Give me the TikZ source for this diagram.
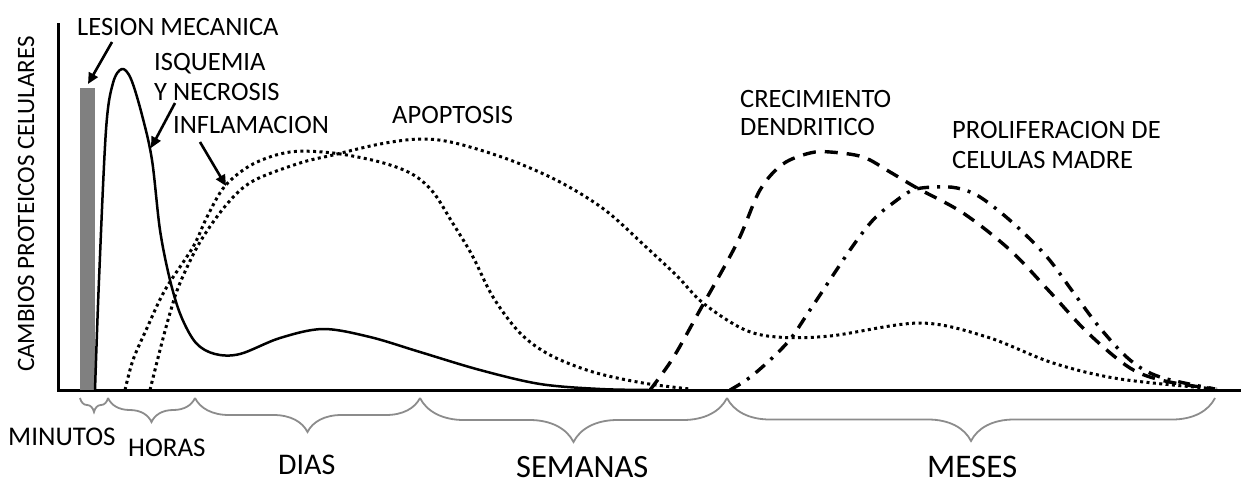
\documentclass[tikz,border=0pt]{standalone}
\usepackage{fontspec}
\setmainfont{Carlito}
\usetikzlibrary{arrows.meta,decorations.pathreplacing}
\begin{document}
\begin{tikzpicture}[x=1pt,y=-1pt,
  lbl/.style={inner sep=0pt, anchor=base west, font=\fontsize{26.5}{30}\selectfont},
  axisline/.style={line width=3pt, black},
  solidcurve/.style={line width=2.5pt, line join=round},
  dotcurve/.style={line width=3pt, dash pattern=on 3pt off 3.4pt},
  dashcurve/.style={line width=3.4pt, dash pattern=on 13pt off 9pt},
  dashdotcurve/.style={line width=3.4pt, dash pattern=on 12pt off 8pt on 3pt off 8pt},
  pointer/.style={line width=2.6pt, -{Triangle[length=11pt,width=10pt]}},
  period/.style={draw=black!45, line width=1.8pt, decorate, decoration={brace, mirror, amplitude=#1}},
]
\useasboundingbox (0,0) rectangle (1241,485);

% axes
\coordinate (top) at (58,23);
\coordinate (origin) at (58,390);
\coordinate (xend) at (1241,390);
\draw[axisline] (top) -- (origin) -- (xend);

% lesion bar
\fill[black!50] (80,88) rectangle (95,390);

% ischemia / necrosis (solid)
\draw[solidcurve] plot[smooth, tension=0.55] coordinates {
  (95,390) (99,280) (106,130) (113,83) (122,69) (131,79) (142,115) (152,160)
  (160,230) (170,280) (181,316) (196,343) (215,354) (240,354) (280,338)
  (323,329) (370,337) (420,352) (480,370) (540,384) (600,389) (650,390)};

% inflamacion (dotted, short)
\draw[dotcurve] plot[smooth, tension=0.55] coordinates {
  (125,390) (133,360) (147,328) (165,290) (193,247) (207,217) (225,186)
  (253,164) (290,152) (333,153) (380,162) (412,174) (433,192) (452,222)
  (472,255) (493,297) (520,333) (550,355) (593,372) (643,383) (690,389)};

% apoptosis (dotted, long)
\draw[dotcurve] plot[smooth, tension=0.55] coordinates {
  (150,390) (160,350) (170,313) (180,283) (200,242) (227,204) (253,181)
  (300,163) (333,155) (380,144) (420,139) (455,143) (510,160) (560,182)
  (605,210) (645,246) (677,276) (703,303) (743,329) (777,337) (830,336)
  (920,323) (987,337) (1053,363) (1120,379) (1217,389)};

% crecimiento dendritico (dashed)
\draw[dashcurve] plot[smooth, tension=0.55] coordinates {
  (650,390) (673,358) (700,310) (737,243) (760,190) (783,164) (810,153)
  (830,152) (863,157) (890,172) (917,188) (963,213) (1010,250) (1050,292)
  (1088,333) (1130,368) (1165,381) (1215,389)};

% proliferacion de celulas madre (dash dot)
\draw[dashdotcurve] plot[smooth, tension=0.55] coordinates {
  (730,390) (753,375) (787,343) (810,310) (850,250) (873,220) (893,203)
  (913,190) (935,187) (957,188) (980,197) (1013,223) (1047,257) (1073,292)
  (1100,328) (1130,360) (1160,377) (1215,389)};

% labels
\node[lbl] (lesion) at (77,35) {LESION MECANICA};
\node[lbl] (isq1) at (154,70) {ISQUEMIA};
\node[lbl] (isq2) at (154,100) {Y NECROSIS};
\node[lbl] (infl) at (173,133) {INFLAMACION};
\node[lbl] (apop) at (392,123) {APOPTOSIS};
\node[lbl] (crec1) at (740,107) {CRECIMIENTO};
\node[lbl] (crec2) at (740,135) {DENDRITICO};
\node[lbl] (prol1) at (952,138) {PROLIFERACION DE};
\node[lbl] (prol2) at (952,168) {CELULAS MADRE};
\node[inner sep=0pt, anchor=base, rotate=90, font=\fontsize{25}{30}\selectfont] (ylab) at (34,204) {CAMBIOS PROTEICOS CELULARES};

% pointers
\coordinate (lesA) at (112,42);  \coordinate (lesB) at (88,84);
\coordinate (isqA) at (175,103); \coordinate (isqB) at (151,148);
\coordinate (infA) at (200,142); \coordinate (infB) at (226,186);
\draw[pointer] (lesA) -- (lesB);
\draw[pointer] (isqA) -- (isqB);
\draw[pointer] (infA) -- (infB);

% time braces
\coordinate (b0) at (80,398);
\coordinate (b1) at (108,398);
\coordinate (b2) at (195,398);
\coordinate (b3) at (420,398);
\coordinate (b4) at (727,398);
\coordinate (b5) at (1215,398);
\draw[period=14pt] (b0) -- (b1);
\draw[period=24pt] (b1) -- (b2);
\draw[period=34pt] (b2) -- (b3);
\draw[period=44pt] (b3) -- (b4);
\draw[period=43pt] (b4) -- (b5);

\node[lbl, font=\fontsize{27}{30}\selectfont] (min) at (8,445) {MINUTOS};
\node[lbl, font=\fontsize{27}{30}\selectfont] (hor) at (128,456) {HORAS};
\node[lbl, font=\fontsize{30}{34}\selectfont] (dia) at (278,474) {DIAS};
\node[lbl, font=\fontsize{32.5}{36}\selectfont] (sem) at (516,477) {SEMANAS};
\node[lbl, font=\fontsize{33}{36}\selectfont] (mes) at (927,477) {MESES};
\end{tikzpicture}
\end{document}
